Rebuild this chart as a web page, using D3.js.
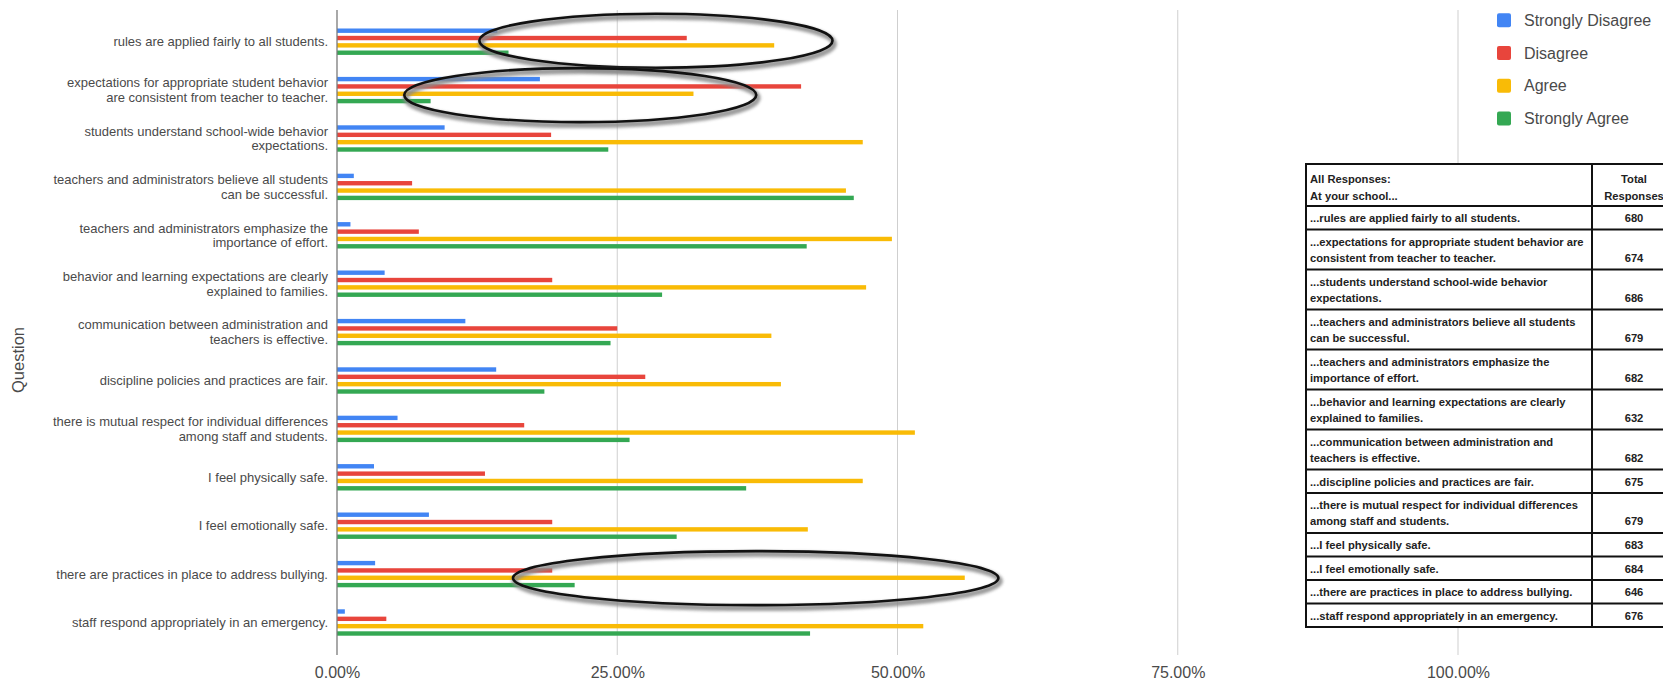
<!DOCTYPE html>
<html><head><meta charset="utf-8">
<script src="https://cdn.jsdelivr.net/npm/d3@7"></script>
<style>body{margin:0;background:#fff;} svg{display:block;font-family:"Liberation Sans",Arial,sans-serif;}</style>
</head><body><svg id="c" width="1663" height="687"></svg>
<script>
// ---------- data ----------
const categories = [
  ["rules are applied fairly to all students."],
  ["expectations for appropriate student behavior", "are consistent from teacher to teacher."],
  ["students understand school-wide behavior", "expectations."],
  ["teachers and administrators believe all students", "can be successful."],
  ["teachers and administrators emphasize the", "importance of effort."],
  ["behavior and learning expectations are clearly", "explained to families."],
  ["communication between administration and", "teachers is effective."],
  ["discipline policies and practices are fair."],
  ["there is mutual respect for individual differences", "among staff and students."],
  ["I feel physically safe."],
  ["I feel emotionally safe."],
  ["there are practices in place to address bullying."],
  ["staff respond appropriately in an emergency."]
];
const seriesNames = ["Strongly Disagree", "Disagree", "Agree", "Strongly Agree"];
const seriesColors = ["#4285f4", "#e8453c", "#f9bb06", "#34a853"];
const stronglyDisagree = [14.3, 18.1, 9.6, 1.5, 1.2, 4.25, 11.45, 14.2, 5.4, 3.3, 8.2, 3.4, 0.7];
const disagree         = [31.2, 41.4, 19.1, 6.7, 7.3, 19.2, 25.0, 27.5, 16.7, 13.2, 19.2, 19.2, 4.4];
const agree            = [39.0, 31.8, 46.9, 45.4, 49.5, 47.2, 38.75, 39.6, 51.55, 46.9, 42.0, 56.0, 52.3];
const stronglyAgree    = [15.3, 8.35, 24.2, 46.1, 41.9, 29.0, 24.4, 18.5, 26.1, 36.5, 30.3, 21.2, 42.2];
const tickValues = [0, 0.25, 0.5, 0.75, 1];
const axisTitle = "Question";
const tableHeaderLeft = ["All Responses:", "At your school..."];
const tableHeaderRight = ["Total", "Responses"];
const tableRows = [
  ["...rules are applied fairly to all students."],
  ["...expectations for appropriate student behavior are", "consistent from teacher to teacher."],
  ["...students understand school-wide behavior", "expectations."],
  ["...teachers and administrators believe all students", "can be successful."],
  ["...teachers and administrators emphasize the", "importance of effort."],
  ["...behavior and learning expectations are clearly", "explained to families."],
  ["...communication between administration and", "teachers is effective."],
  ["...discipline policies and practices are fair."],
  ["...there is mutual respect for individual differences", "among staff and students."],
  ["...I feel physically safe."],
  ["...I feel emotionally safe."],
  ["...there are practices in place to address bullying."],
  ["...staff respond appropriately in an emergency."]
];
const totalResponses = [680, 674, 686, 679, 682, 632, 682, 675, 679, 683, 684, 646, 676];
// hand-drawn highlight ellipses: category index and x-extent (share of responses)
const highlights = [
  {cat: 0, from: 0.127, to: 0.442, dy: -1},
  {cat: 1, from: 0.060, to: 0.374, dy: 5},
  {cat: 11, from: 0.157, to: 0.590, dy: 4}
];

// ---------- chart ----------
const series = [stronglyDisagree, disagree, agree, stronglyAgree];
const svg = d3.select("#c");
const plotTop = 10, plotBottom = 655;

const x = d3.scaleLinear().domain([0, 1]).range([337, 1458]);
const y0 = d3.scaleBand().domain(d3.range(categories.length)).range([17.5, 646.7]);
const y1 = d3.scaleBand().domain(d3.range(series.length)).range([-14.67, 14.67]);
const barH = 4.4;

const defs = svg.append("defs");
const f = defs.append("filter").attr("id", "sh").attr("x", "-10%").attr("y", "-40%").attr("width", "120%").attr("height", "180%");
f.append("feGaussianBlur").attr("stdDeviation", 1.8);

// gridlines
svg.append("g").selectAll("line").data(tickValues.filter(d => d > 0)).join("line")
  .attr("x1", d => x(d)).attr("x2", d => x(d))
  .attr("y1", plotTop).attr("y2", plotBottom)
  .attr("stroke", "#cfcfcf").attr("stroke-width", 1);

// bars
const gGroups = svg.append("g").selectAll("g").data(categories).join("g")
  .attr("transform", (d, i) => `translate(0,${y0(i) + y0.bandwidth() / 2})`);
gGroups.selectAll("rect").data((d, i) => series.map((s, k) => ({k, v: s[i] / 100}))).join("rect")
  .attr("x", x(0))
  .attr("y", d => y1(d.k) + y1.bandwidth() / 2 - barH / 2)
  .attr("width", d => x(d.v) - x(0))
  .attr("height", barH)
  .attr("fill", d => seriesColors[d.k]);

// baseline axis
svg.append("line").attr("x1", x(0)).attr("x2", x(0)).attr("y1", plotTop).attr("y2", plotBottom)
  .attr("stroke", "#7a7a7a").attr("stroke-width", 1.3);

// x axis tick labels
const xAxis = d3.axisBottom(x).tickValues(tickValues).tickFormat(d3.format(".2%")).tickSize(0).tickPadding(0);
const gx = svg.append("g").attr("transform", `translate(0,${plotBottom + 12})`).call(xAxis);
gx.select(".domain").remove();
gx.selectAll("text").attr("font-size", 16).attr("fill", "#4a4a4a")
  .attr("font-family", "'Liberation Sans', Arial, sans-serif").attr("dy", "0.71em");

// category labels
const lab = svg.append("g").selectAll("text").data(categories).join("text")
  .attr("text-anchor", "end").attr("font-size", 13).attr("fill", "#4a4a4a")
  .attr("transform", (d, i) => `translate(328,${y0(i) + y0.bandwidth() / 2})`);
lab.each(function(lines) {
  const t = d3.select(this);
  const lh = 14.5;
  lines.forEach((ln, j) => {
    t.append("tspan").attr("x", 0).attr("y", (j - (lines.length - 1) / 2) * lh).attr("dy", "0.35em").text(ln);
  });
});

// axis title
svg.append("text").attr("transform", `translate(24,360) rotate(-90)`)
  .attr("text-anchor", "middle").attr("font-size", 16.5).attr("fill", "#4a4a4a").text(axisTitle);

// highlight ellipses
const eg = svg.append("g");
highlights.forEach(h => {
  const cx = (x(h.from) + x(h.to)) / 2, rx = (x(h.to) - x(h.from)) / 2;
  const cy = y0(h.cat) + y0.bandwidth() / 2 + h.dy, ry = 27;
  eg.append("ellipse").attr("cx", cx + 1.5).attr("cy", cy + 3).attr("rx", rx).attr("ry", ry)
    .attr("fill", "none").attr("stroke", "#8a8a8a").attr("stroke-width", 6).attr("filter", "url(#sh)").attr("opacity", 0.85);
  eg.append("ellipse").attr("cx", cx).attr("cy", cy).attr("rx", rx).attr("ry", ry)
    .attr("fill", "none").attr("stroke", "#111").attr("stroke-width", 2.6);
});

// legend
const lg = svg.append("g").selectAll("g").data(seriesNames).join("g")
  .attr("transform", (d, i) => `translate(1497,${20.3 + i * 32.7})`);
lg.append("rect").attr("x", 0).attr("y", -7).attr("width", 14).attr("height", 14).attr("rx", 2)
  .attr("fill", (d, i) => seriesColors[i]);
lg.append("text").attr("x", 27).attr("dy", "0.35em").attr("font-size", 16).attr("fill", "#4a4a4a").text(d => d);

// ---------- responses table ----------
const tLeft = 1306, tMid = 1592, tRight = 1676, tTop = 164;
const headH = 42, singleH = 23.5, doubleH = 40;
const rowHeights = tableRows.map(r => r.length > 1 ? doubleH : singleH);
const rowTops = [];
let acc = tTop + headH;
rowHeights.forEach(h => { rowTops.push(acc); acc += h; });
const tBottom = acc;
const tg = svg.append("g").attr("font-size", 11.2).attr("font-weight", "bold").attr("fill", "#222");
tg.append("rect").attr("x", tLeft).attr("y", tTop).attr("width", tRight - tLeft).attr("height", tBottom - tTop)
  .attr("fill", "#fff").attr("stroke", "#111").attr("stroke-width", 2);
tg.append("line").attr("x1", tMid).attr("x2", tMid).attr("y1", tTop).attr("y2", tBottom).attr("stroke", "#111").attr("stroke-width", 2);
rowTops.forEach(t => tg.append("line").attr("x1", tLeft).attr("x2", tRight).attr("y1", t).attr("y2", t).attr("stroke", "#111").attr("stroke-width", 2));
tableHeaderLeft.forEach((s, j) => tg.append("text").attr("x", tLeft + 4).attr("y", tTop + 19 + j * 17.4).text(s));
tableHeaderRight.forEach((s, j) => tg.append("text").attr("x", (tMid + tRight) / 2).attr("y", tTop + 19 + j * 17.4).attr("text-anchor", "middle").text(s));
tableRows.forEach((lines, i) => {
  lines.forEach((s, j) => tg.append("text").attr("x", tLeft + 4).attr("y", rowTops[i] + 16.3 + j * 15.7).text(s));
  tg.append("text").attr("x", (tMid + tRight) / 2).attr("y", rowTops[i] + 16.3 + (lines.length - 1) * 15.7)
    .attr("text-anchor", "middle").text(totalResponses[i]);
});
</script></body></html>
